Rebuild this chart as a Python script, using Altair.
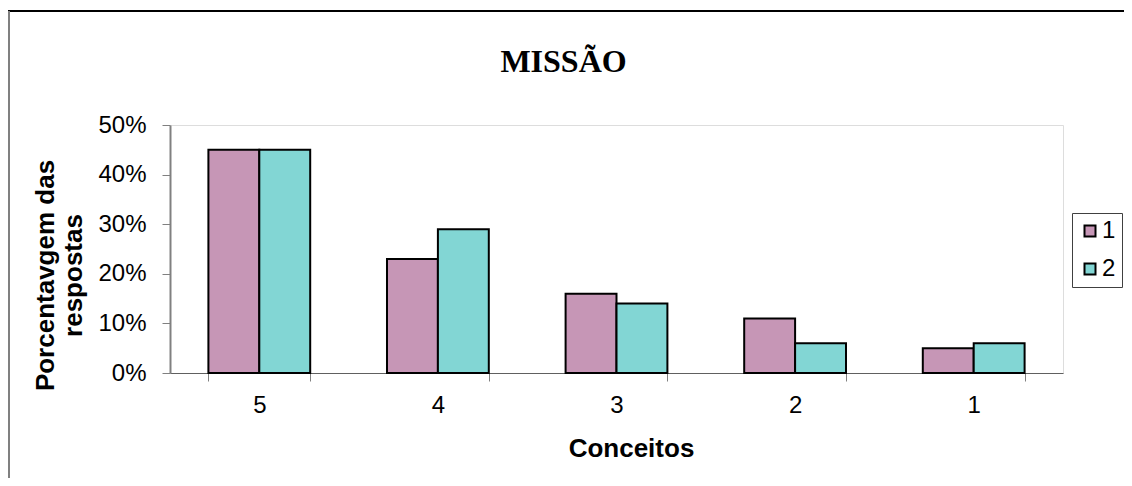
import altair as alt
import pandas as pd

categories = ["5", "4", "3", "2", "1"]
serie_1 = [0.45, 0.23, 0.16, 0.11, 0.05]
serie_2 = [0.45, 0.29, 0.14, 0.06, 0.06]
series = ["1", "2"]
colors = ["#C696B6", "#82D6D4"]

rows = []
for c, v1, v2 in zip(categories, serie_1, serie_2):
    rows.append({"conceito": c, "serie": "1", "valor": v1})
    rows.append({"conceito": c, "serie": "2", "valor": v2})
df = pd.DataFrame(rows)

SANS = "Liberation Sans"

bars = alt.Chart(df).mark_bar(stroke="black", strokeWidth=2).encode(
    x=alt.X(
        "conceito:N",
        sort=categories,
        scale=alt.Scale(paddingInner=0.43, paddingOuter=0.215),
        axis=alt.Axis(
            title="Conceitos",
            labelAngle=0,
            labelFont=SANS,
            labelFontSize=24,
            labelColor="black",
            labelPadding=12,
            tickBand="extent",
            tickSize=8,
            tickColor="#808080",
            domainColor="#606060",
            domainWidth=1,
            titleFont=SANS,
            titleFontSize=26,
            titleFontWeight="bold",
            titleColor="black",
            titleX=461,
            titleY=62,
            titleAlign="center",
            titleBaseline="top",
        ),
    ),
    xOffset=alt.XOffset("serie:N", sort=series),
    y=alt.Y(
        "valor:Q",
        scale=alt.Scale(domain=[0, 0.5]),
        axis=alt.Axis(
            title=["Porcentavgem das", "respostas"],
            values=[0, 0.1, 0.2, 0.3, 0.4, 0.5],
            format=".0%",
            grid=False,
            labelFont=SANS,
            labelFontSize=24,
            labelColor="black",
            labelPadding=16,
            tickSize=8,
            tickColor="#808080",
            domainColor="#808080",
            domainWidth=2,
            titleFont=SANS,
            titleFontSize=26,
            titleFontWeight="bold",
            titleColor="black",
            titleAngle=270,
            titleX=-112,
            titleY=150,
            titleAlign="center",
            titleBaseline="bottom",
            titleLineHeight=28,
        ),
    ),
    color=alt.Color(
        "serie:N",
        scale=alt.Scale(domain=series, range=colors),
        legend=alt.Legend(
            title=None,
            orient="none",
            legendX=902,
            legendY=88,
            strokeColor="#404040",
            padding=6,
            symbolType="square",
            symbolSize=121,
            symbolStrokeColor="black",
            symbolStrokeWidth=2,
            symbolOpacity=1,
            labelFont=SANS,
            labelFontSize=24,
            labelColor="black",
            labelOffset=0,
            rowPadding=14,
        ),
    ),
)

frame = pd.DataFrame({"k": [0]})
frame_top = alt.Chart(frame).mark_rule(color="black", strokeWidth=2).encode(
    x=alt.value(-162), x2=alt.value(1000), y=alt.value(-114)
)
frame_left = alt.Chart(frame).mark_rule(color="#808080", strokeWidth=2).encode(
    x=alt.value(-161), y=alt.value(-114), y2=alt.value(400)
)

chart = alt.layer(frame_top, frame_left, bars).properties(
    width=893,
    height=248,
    title=alt.Title(
        "MISSÃO",
        font="Liberation Serif",
        fontSize=32,
        fontWeight="bold",
        color="black",
        anchor="middle",
        baseline="alphabetic",
        dx=-53,
        offset=-94,
    ),
    autosize=alt.AutoSizeParams(type="none"),
    padding={"left": 162, "top": 117, "right": 61, "bottom": 105},
).configure_view(
    stroke="#808080", strokeWidth=2
).configure(background="white")

chart.save("out.html", embed_options={"renderer": "svg", "actions": False})
